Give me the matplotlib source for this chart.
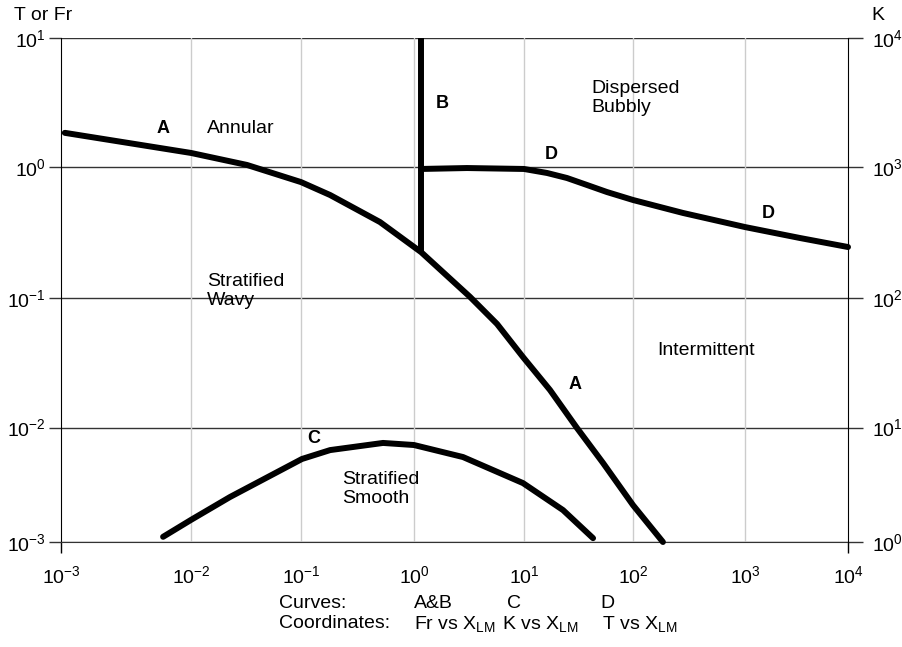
import matplotlib
matplotlib.use("Agg")
import matplotlib.pyplot as plt
import numpy as np

plt.rcParams["font.family"] = ["Liberation Sans", "DejaVu Sans"]
plt.rcParams["mathtext.fontset"] = "custom"
plt.rcParams["mathtext.rm"] = "Liberation Sans"
plt.rcParams["mathtext.it"] = "Liberation Sans:italic"
plt.rcParams["mathtext.bf"] = "Liberation Sans:bold"

# curve A : Fr vs X_LM
xa = [1.07e-3, 0.01, 0.0323, 0.1, 0.181, 0.50, 1.16, 3.23, 5.69, 9.79, 17.3, 30.6, 53.1, 100, 185]
fra = [1.84, 1.285, 1.037, 0.767, 0.611, 0.380, 0.224, 0.102, 0.0630, 0.0350, 0.0195, 0.00991, 0.00490, 0.00210, 0.00100]

# curve B : Fr vs X_LM (vertical)
xb = [1.16, 1.16]
frb = [0.224, 10.0]

# curve C : K vs X_LM
xc = [0.0061, 0.01, 0.0226, 0.102, 0.181, 0.532, 1.0, 2.79, 9.79, 22.8, 43.0]
kc = [1.11, 1.56, 2.47, 5.31, 6.35, 7.33, 7.03, 5.52, 3.27, 1.90, 1.08]

# curve D : T vs X_LM
xd = [1.16, 3.03, 10, 16.3, 24.8, 37.8, 57.7, 100, 279, 1000, 3420, 10000]
td = [0.966, 0.982, 0.966, 0.900, 0.824, 0.729, 0.644, 0.560, 0.446, 0.348, 0.287, 0.245]

xticks = [1e-3, 1e-2, 1e-1, 1e0, 1e1, 1e2, 1e3, 1e4]
xlabels = ["$10^{-3}$", "$10^{-2}$", "$10^{-1}$", "$10^{0}$", "$10^{1}$", "$10^{2}$", "$10^{3}$", "$10^{4}$"]
yticks = [1e-3, 1e-2, 1e-1, 1e0, 1e1]
ylabels = ["$10^{-3}$", "$10^{-2}$", "$10^{-1}$", "$10^{0}$", "$10^{1}$"]
kticks = [1e0, 1e1, 1e2, 1e3, 1e4]
klabels = ["$10^{0}$", "$10^{1}$", "$10^{2}$", "$10^{3}$", "$10^{4}$"]

# the original chart's decades are not all the same length
x_dec = [-3, -2, -1, 0, 1, 2, 3, 4]
x_pos = [0, 130, 240, 353, 463, 572, 684, 787]
y_dec = [-3, -2, -1, 0, 1]
y_pos = [0, 114.5, 244, 375, 504]


def piecewise_log(decs, pos):
    decs = np.asarray(decs, float)
    pos = np.asarray(pos, float)
    s0 = (pos[1] - pos[0]) / (decs[1] - decs[0])
    s1 = (pos[-1] - pos[-2]) / (decs[-1] - decs[-2])

    def fwd(v):
        e = np.log10(np.maximum(np.asarray(v, float), 1e-300))
        out = np.interp(e, decs, pos)
        out = np.where(e < decs[0], pos[0] + (e - decs[0]) * s0, out)
        out = np.where(e > decs[-1], pos[-1] + (e - decs[-1]) * s1, out)
        return out

    def inv(p):
        p = np.asarray(p, float)
        e = np.interp(p, pos, decs)
        e = np.where(p < pos[0], decs[0] + (p - pos[0]) / s0, e)
        e = np.where(p > pos[-1], decs[-1] + (p - pos[-1]) / s1, e)
        return 10.0 ** e

    return fwd, inv


fs = 14
lfs = 13
lw = 4.3

fig = plt.figure(figsize=(9.03, 6.47), dpi=100)
ax = fig.add_axes([61 / 903, 105 / 647, 787 / 903, 504 / 647])
ax.set_xscale("function", functions=piecewise_log(x_dec, x_pos))
ax.set_yscale("function", functions=piecewise_log(y_dec, y_pos))
ax.set_xlim(1e-3, 1e4)
ax.set_ylim(1e-3, 1e1)

# grid: dark horizontal, light vertical
for y in yticks:
    ax.axhline(y, color="#333333", lw=1.0, zorder=1)
for x in xticks[1:-1]:
    ax.axvline(x, color="#cccccc", lw=1.0, zorder=1)

ax.set_xticks(xticks, xlabels, fontsize=fs)
ax.set_yticks(yticks, ylabels, fontsize=fs)
ax.xaxis.set_minor_locator(matplotlib.ticker.NullLocator())
ax.yaxis.set_minor_locator(matplotlib.ticker.NullLocator())
ax.tick_params(axis="y", direction="out", length=9, width=1, color="#333333", pad=2)
ax.tick_params(axis="x", direction="out", length=8, width=1, color="black", pad=9)
for t in ax.xaxis.get_major_ticks()[1:-1]:
    t.tick1line.set_visible(False)

ax.spines["top"].set_visible(False)
ax.spines["right"].set_visible(False)
ax.spines["bottom"].set_color("#333333")
ax.spines["left"].set_color("black")

ax.plot(xa, fra, color="black", lw=lw, solid_capstyle="round", solid_joinstyle="round", clip_on=False, zorder=3)
ax.plot(xb, frb, color="black", lw=lw, solid_capstyle="butt", clip_on=False, zorder=3)
ax.plot(xd, td, color="black", lw=lw, solid_capstyle="round", solid_joinstyle="round", clip_on=False, zorder=3)

ax2 = ax.twinx()
ax2.set_yscale("function", functions=piecewise_log([d + 3 for d in y_dec], y_pos))
ax2.set_ylim(1e0, 1e4)
ax2.set_yticks(kticks, klabels, fontsize=fs)
ax2.yaxis.set_minor_locator(matplotlib.ticker.NullLocator())
ax2.tick_params(axis="y", direction="out", length=11, width=1, color="#333333", pad=6)
for s in ["top", "bottom", "left"]:
    ax2.spines[s].set_visible(False)
ax2.spines["right"].set_color("black")
ax2.plot(xc, kc, color="black", lw=lw, solid_capstyle="round", solid_joinstyle="round", clip_on=False, zorder=3)

# curve letters
ax.text(0.0061, 2.0, "A", fontsize=lfs, fontweight="bold", ha="center", va="center")
ax.text(1.80, 3.08, "B", fontsize=lfs, fontweight="bold", ha="center", va="center")
ax.text(17.7, 1.24, "D", fontsize=lfs, fontweight="bold", ha="center", va="center")
ax.text(1671, 0.438, "D", fontsize=lfs, fontweight="bold", ha="center", va="center")
ax.text(29.4, 0.0213, "A", fontsize=lfs, fontweight="bold", ha="center", va="center")
ax.text(0.130, 0.00794, "C", fontsize=lfs, fontweight="bold", ha="center", va="center")

# regions
ax.text(0.0140, 2.0, "Annular", fontsize=fs, ha="left", va="center")
ax.text(0.0140, 0.113, "Stratified\nWavy", fontsize=fs, ha="left", va="center", linespacing=1.15)
ax.text(41.2, 3.43, "Dispersed\nBubbly", fontsize=fs, ha="left", va="center", linespacing=1.15)
ax.text(164, 0.0396, "Intermittent", fontsize=fs, ha="left", va="center")
ax.text(0.231, 0.00293, "Stratified\nSmooth", fontsize=fs, ha="left", va="center", linespacing=1.15)

# axis titles
fig.text(14 / 903, 1 - 16 / 647, "T or Fr", fontsize=fs, ha="left", va="center")
fig.text(878 / 903, 1 - 16 / 647, "K", fontsize=fs, ha="center", va="center")

# caption
def ftx(px, py, s):
    fig.text(px / 903, 1 - py / 647, s, fontsize=fs, ha="left", va="center")

ftx(279, 603, "Curves:")
ftx(414, 603, "A&B")
ftx(507, 603, "C")
ftx(600, 603, "D")
ftx(279, 624, "Coordinates:")
ftx(414, 624, r"Fr vs X$_{\rm LM}$")
ftx(502, 624, r"K vs X$_{\rm LM}$")
ftx(602, 624, r"T vs X$_{\rm LM}$")

fig.savefig("out.png", dpi=100)
